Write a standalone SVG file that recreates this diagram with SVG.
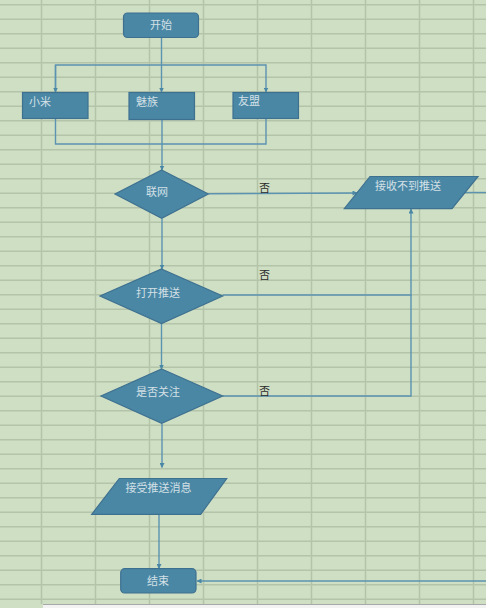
<svg xmlns="http://www.w3.org/2000/svg" width="486" height="608" viewBox="0 0 486 608">
<defs>
<style>
.bg{fill:#cfdfc4}
.grid line{stroke:#b4c4a9;stroke-width:1.5}
.shape{fill:#4a87a5;stroke:#3e7190;stroke-width:1.2}
.lbl{font-family:"Noto Sans CJK SC","Noto Sans CJK JP",sans-serif;font-size:11px;fill:#d3e0e6}
.lblc{text-anchor:middle}
.no{font-family:"Noto Sans CJK SC","Noto Sans CJK JP",sans-serif;font-size:11px;fill:#2b2b2b}
.conn{fill:none;stroke:#5b93b1;stroke-width:1.4}
</style>
<marker id="arr" viewBox="0 0 10 10" refX="9" refY="5" markerWidth="5" markerHeight="5" orient="auto" markerUnits="userSpaceOnUse">
<path d="M0,0 L10,5 L0,10 z" fill="#4a87a5"/>
</marker>
</defs>
<rect class="bg" x="0" y="0" width="486" height="608"/>
<g class="grid">
<line x1="41.5" y1="0" x2="41.5" y2="604"/>
<line x1="95.5" y1="0" x2="95.5" y2="604"/>
<line x1="149.5" y1="0" x2="149.5" y2="604"/>
<line x1="203.5" y1="0" x2="203.5" y2="604"/>
<line x1="257.5" y1="0" x2="257.5" y2="604"/>
<line x1="311.5" y1="0" x2="311.5" y2="604"/>
<line x1="365.5" y1="0" x2="365.5" y2="604"/>
<line x1="419.5" y1="0" x2="419.5" y2="604"/>
<line x1="473.5" y1="0" x2="473.5" y2="604"/>
<line x1="0" y1="4.7" x2="486" y2="4.7"/>
<line x1="0" y1="19.2" x2="486" y2="19.2"/>
<line x1="0" y1="33.7" x2="486" y2="33.7"/>
<line x1="0" y1="48.2" x2="486" y2="48.2"/>
<line x1="0" y1="62.7" x2="486" y2="62.7"/>
<line x1="0" y1="77.2" x2="486" y2="77.2"/>
<line x1="0" y1="91.7" x2="486" y2="91.7"/>
<line x1="0" y1="106.2" x2="486" y2="106.2"/>
<line x1="0" y1="120.7" x2="486" y2="120.7"/>
<line x1="0" y1="135.2" x2="486" y2="135.2"/>
<line x1="0" y1="149.7" x2="486" y2="149.7"/>
<line x1="0" y1="164.2" x2="486" y2="164.2"/>
<line x1="0" y1="178.7" x2="486" y2="178.7"/>
<line x1="0" y1="193.2" x2="486" y2="193.2"/>
<line x1="0" y1="207.7" x2="486" y2="207.7"/>
<line x1="0" y1="222.2" x2="486" y2="222.2"/>
<line x1="0" y1="236.7" x2="486" y2="236.7"/>
<line x1="0" y1="251.2" x2="486" y2="251.2"/>
<line x1="0" y1="265.7" x2="486" y2="265.7"/>
<line x1="0" y1="280.2" x2="486" y2="280.2"/>
<line x1="0" y1="294.7" x2="486" y2="294.7"/>
<line x1="0" y1="309.2" x2="486" y2="309.2"/>
<line x1="0" y1="323.7" x2="486" y2="323.7"/>
<line x1="0" y1="338.2" x2="486" y2="338.2"/>
<line x1="0" y1="352.7" x2="486" y2="352.7"/>
<line x1="0" y1="367.2" x2="486" y2="367.2"/>
<line x1="0" y1="381.7" x2="486" y2="381.7"/>
<line x1="0" y1="396.2" x2="486" y2="396.2"/>
<line x1="0" y1="410.7" x2="486" y2="410.7"/>
<line x1="0" y1="425.2" x2="486" y2="425.2"/>
<line x1="0" y1="439.7" x2="486" y2="439.7"/>
<line x1="0" y1="454.2" x2="486" y2="454.2"/>
<line x1="0" y1="468.7" x2="486" y2="468.7"/>
<line x1="0" y1="483.2" x2="486" y2="483.2"/>
<line x1="0" y1="497.7" x2="486" y2="497.7"/>
<line x1="0" y1="512.2" x2="486" y2="512.2"/>
<line x1="0" y1="526.7" x2="486" y2="526.7"/>
<line x1="0" y1="541.2" x2="486" y2="541.2"/>
<line x1="0" y1="555.7" x2="486" y2="555.7"/>
<line x1="0" y1="570.2" x2="486" y2="570.2"/>
<line x1="0" y1="584.7" x2="486" y2="584.7"/>
<line x1="0" y1="599.2" x2="486" y2="599.2"/>
</g>
<rect x="43" y="604" width="443" height="4" fill="#f3f3f3"/>
<line x1="43" y1="604.5" x2="486" y2="604.5" stroke="#a8a8a8" stroke-width="1"/>

<g id="connectors">
<path class="conn" d="M161.5,37 V92" marker-end="url(#arr)"/>
<path class="conn" d="M55.5,92 V65 H266 V92" marker-end="url(#arr)"/>
<path class="conn" d="M55.5,65 V92" marker-end="url(#arr)"/>
<path class="conn" d="M55.5,118.5 V144 H266 V118.5"/>
<path class="conn" d="M162,119.5 V170" marker-end="url(#arr)"/>
<path class="conn" d="M208.5,193.7 L357,193" marker-end="url(#arr)"/>
<path class="conn" d="M463,192.5 H486"/>
<path class="conn" d="M162,218.5 V269" marker-end="url(#arr)"/>
<path class="conn" d="M222.7,295 H411 V209" marker-end="url(#arr)"/>
<path class="conn" d="M161.5,323 V369" marker-end="url(#arr)"/>
<path class="conn" d="M222.7,396 H411 V295"/>
<path class="conn" d="M162,423.5 V467.5" marker-end="url(#arr)"/>
<path class="conn" d="M159,514.5 V568.5" marker-end="url(#arr)"/>
<path class="conn" d="M486,581 H197" marker-end="url(#arr)"/>
<text class="no" x="259" y="191.5">否</text>
<text class="no" x="259" y="278.5">否</text>
<text class="no" x="259" y="394.5">否</text>
</g>

<g id="start">
<rect class="shape" x="123.5" y="13" width="75" height="24.5" rx="4"/>
<text class="lbl lblc" x="161" y="29">开始</text>
</g>
<g id="xiaomi">
<rect class="shape" x="22.5" y="92.5" width="65.5" height="26"/>
<text class="lbl" x="29" y="106">小米</text>
</g>
<g id="meizu">
<rect class="shape" x="129" y="92.5" width="65.5" height="27"/>
<text class="lbl" x="136" y="106">魅族</text>
</g>
<g id="youmeng">
<rect class="shape" x="233" y="92.5" width="65.5" height="26"/>
<text class="lbl" x="238" y="105">友盟</text>
</g>
<g id="network">
<polygon class="shape" points="161.7,170 208.3,194 161.7,218.3 115,194"/>
<text class="lbl lblc" x="157" y="196">联网</text>
</g>
<g id="noPush">
<polygon class="shape" points="370,176.5 478,176.5 452,208.7 344.3,208.7"/>
<text class="lbl lblc" x="408" y="190">接收不到推送</text>
</g>
<g id="openPush">
<polygon class="shape" points="161.5,269 222.7,296 161.5,323.5 100,296"/>
<text class="lbl lblc" x="158" y="297">打开推送</text>
</g>
<g id="follow">
<polygon class="shape" points="161.7,369 222.7,396 161.7,423.3 101,396"/>
<text class="lbl lblc" x="158" y="396">是否关注</text>
</g>
<g id="receive">
<polygon class="shape" points="119.3,478.5 226.7,478.5 200.7,514.3 91.7,514.3"/>
<text class="lbl" x="125.5" y="492">接受推送消息</text>
</g>
<g id="end">
<rect class="shape" x="120.7" y="568.7" width="75.3" height="24.3" rx="4"/>
<text class="lbl lblc" x="158" y="585">结束</text>
</g>
</svg>
